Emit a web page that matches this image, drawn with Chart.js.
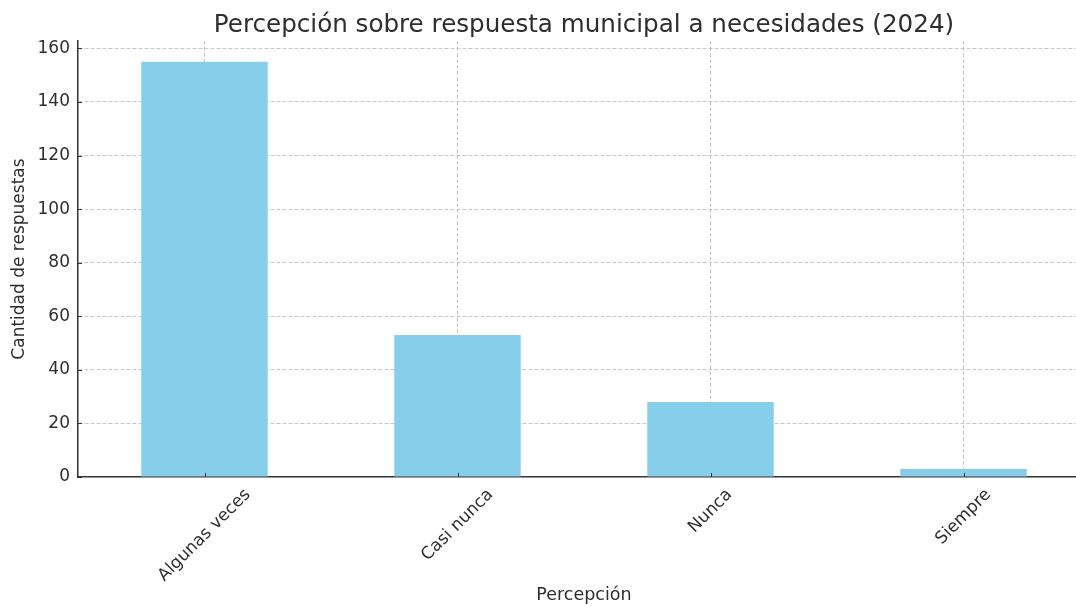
<!DOCTYPE html>
<html>
<head>
<meta charset="utf-8">
<script src="https://cdn.jsdelivr.net/npm/chart.js@4.4.1/dist/chart.umd.min.js"></script>
<style>
  html, body { margin: 0; padding: 0; background: #ffffff; overflow: hidden; }
  #wrap { position: absolute; left: 0; top: 0; width: 1090px; height: 606px; }
</style>
</head>
<body>
<div id="wrap"><canvas id="c"></canvas></div>
<script>
const categories = ['Algunas veces', 'Casi nunca', 'Nunca', 'Siempre'];
const responses = [155, 53, 28, 3];
const yTickStep = 20;
const titleText = 'Percepción sobre respuesta municipal a necesidades (2024)';
const xTitleText = 'Percepción';
const yTitleText = 'Cantidad de respuestas';

const FONT = '"DejaVu Sans", "Liberation Sans", sans-serif';
const TEXT_COLOR = '#2e2e2e';
const AXIS_COLOR = '#333333';
const GRID_COLOR = 'rgba(176,176,176,0.7)';
const BAR_COLOR = '#87CEEB';

const customAxis = {
  id: 'customAxis',
  afterDraw(chart) {
    const { ctx, chartArea } = chart;
    const x = chart.scales.x, y = chart.scales.y;
    ctx.save();
    ctx.strokeStyle = AXIS_COLOR;
    ctx.lineWidth = 1;
    y.ticks.forEach(t => {
      const py = Math.round(y.getPixelForValue(t.value)) + 0.5;
      ctx.beginPath();
      ctx.moveTo(chartArea.left, py);
      ctx.lineTo(chartArea.left + 4, py);
      ctx.stroke();
    });
    categories.forEach((c, i) => {
      const px = Math.round(x.getPixelForValue(i)) + 0.5;
      ctx.beginPath();
      ctx.moveTo(px, chartArea.bottom);
      ctx.lineTo(px, chartArea.bottom - 4);
      ctx.stroke();
    });
    ctx.font = '17px ' + FONT;
    ctx.fillStyle = TEXT_COLOR;
    ctx.textAlign = 'center';
    ctx.textBaseline = 'middle';
    categories.forEach((c, i) => {
      const w = ctx.measureText(c).width;
      const h = 17 * 1.17;
      const d = (w + h) * Math.SQRT1_2;
      const px = x.getPixelForValue(i);
      const cy = chartArea.bottom + 8 + d / 2;
      ctx.save();
      ctx.translate(px, cy);
      ctx.rotate(-Math.PI / 4);
      ctx.fillText(c, 0, 0);
      ctx.restore();
    });
    ctx.restore();
  }
};

new Chart(document.getElementById('c'), {
  type: 'bar',
  data: {
    labels: categories,
    datasets: [{
      data: responses,
      backgroundColor: BAR_COLOR,
      borderWidth: 0,
      categoryPercentage: 1.0,
      barPercentage: 0.5
    }]
  },
  options: {
    responsive: true,
    maintainAspectRatio: false,
    animation: false,
    devicePixelRatio: 1,
    layout: { padding: 0 },
    plugins: {
      legend: { display: false },
      tooltip: { enabled: false },
      title: {
        display: true,
        text: titleText,
        fullSize: false,
        color: TEXT_COLOR,
        font: { family: FONT, size: 24.6, weight: 'normal' },
        padding: { top: 11, bottom: 0.5 }
      }
    },
    scales: {
      x: {
        z: 1,
        offset: true,
        grid: { display: true, offset: false, color: GRID_COLOR, lineWidth: 1, drawTicks: false },
        border: { display: true, color: AXIS_COLOR, width: 1.5, dash: [4, 2] },
        ticks: { display: false },
        title: {
          display: true,
          text: xTitleText,
          color: TEXT_COLOR,
          font: { family: FONT, size: 17.5 },
          padding: { top: 0, bottom: 0 }
        },
        afterFit(scale) { scale.height = 129; }
      },
      y: {
        z: 1,
        min: 0,
        max: 162.75,
        grid: {
          color: ctx => (ctx.tick && ctx.tick.value === 0) ? 'rgba(0,0,0,0)' : GRID_COLOR,
          lineWidth: 1,
          drawTicks: false
        },
        border: { display: true, color: AXIS_COLOR, width: 1.5, dash: [4, 2] },
        ticks: {
          stepSize: yTickStep,
          includeBounds: false,
          padding: 8,
          color: TEXT_COLOR,
          font: { family: FONT, size: 17 }
        },
        title: {
          display: true,
          text: yTitleText,
          color: TEXT_COLOR,
          font: { family: FONT, size: 17 },
          padding: { top: 9, bottom: 0 }
        },
        afterFit(scale) { scale.width = 78; }
      }
    }
  },
  plugins: [customAxis]
});
</script>
</body>
</html>
